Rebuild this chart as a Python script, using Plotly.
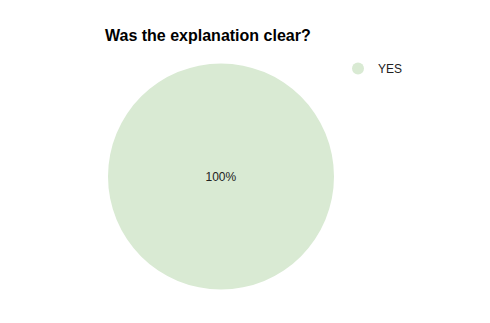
import plotly.graph_objects as go

labels = ["YES"]
values = [100]
colors = ["#d9ead3"]

fig = go.Figure()
fig.add_trace(go.Pie(
    labels=labels, values=values, marker=dict(colors=colors, line=dict(width=0)),
    textinfo="percent", textposition="inside", insidetextorientation="horizontal",
    textfont=dict(family="Arial, Liberation Sans", size=12, color="#222222"),
    sort=False, showlegend=False, hoverinfo="label+percent",
))
for lab, col in zip(labels, colors):
    fig.add_trace(go.Scatter(
        x=[None], y=[None], mode="markers", name=lab,
        marker=dict(symbol="circle", size=12, color=col),
        showlegend=True,
    ))

fig.update_layout(
    width=490, height=323,
    margin=dict(l=108, r=156, t=63, b=33, autoexpand=False),
    paper_bgcolor="white", plot_bgcolor="white",
    title=dict(text="<b>Was the explanation clear?</b>", x=105/490, xanchor="left",
               y=1-35/323, yanchor="middle",
               font=dict(family="Arial, Liberation Sans", size=16, color="#000000")),
    xaxis=dict(visible=False), yaxis=dict(visible=False),
    legend=dict(x=338/490, xref="container", y=1-54/323, yref="container",
                xanchor="left", yanchor="top",
                font=dict(family="Arial, Liberation Sans", size=12, color="#222222"),
                itemsizing="constant", bgcolor="rgba(0,0,0,0)"),
)
fig.write_html("out.html")
